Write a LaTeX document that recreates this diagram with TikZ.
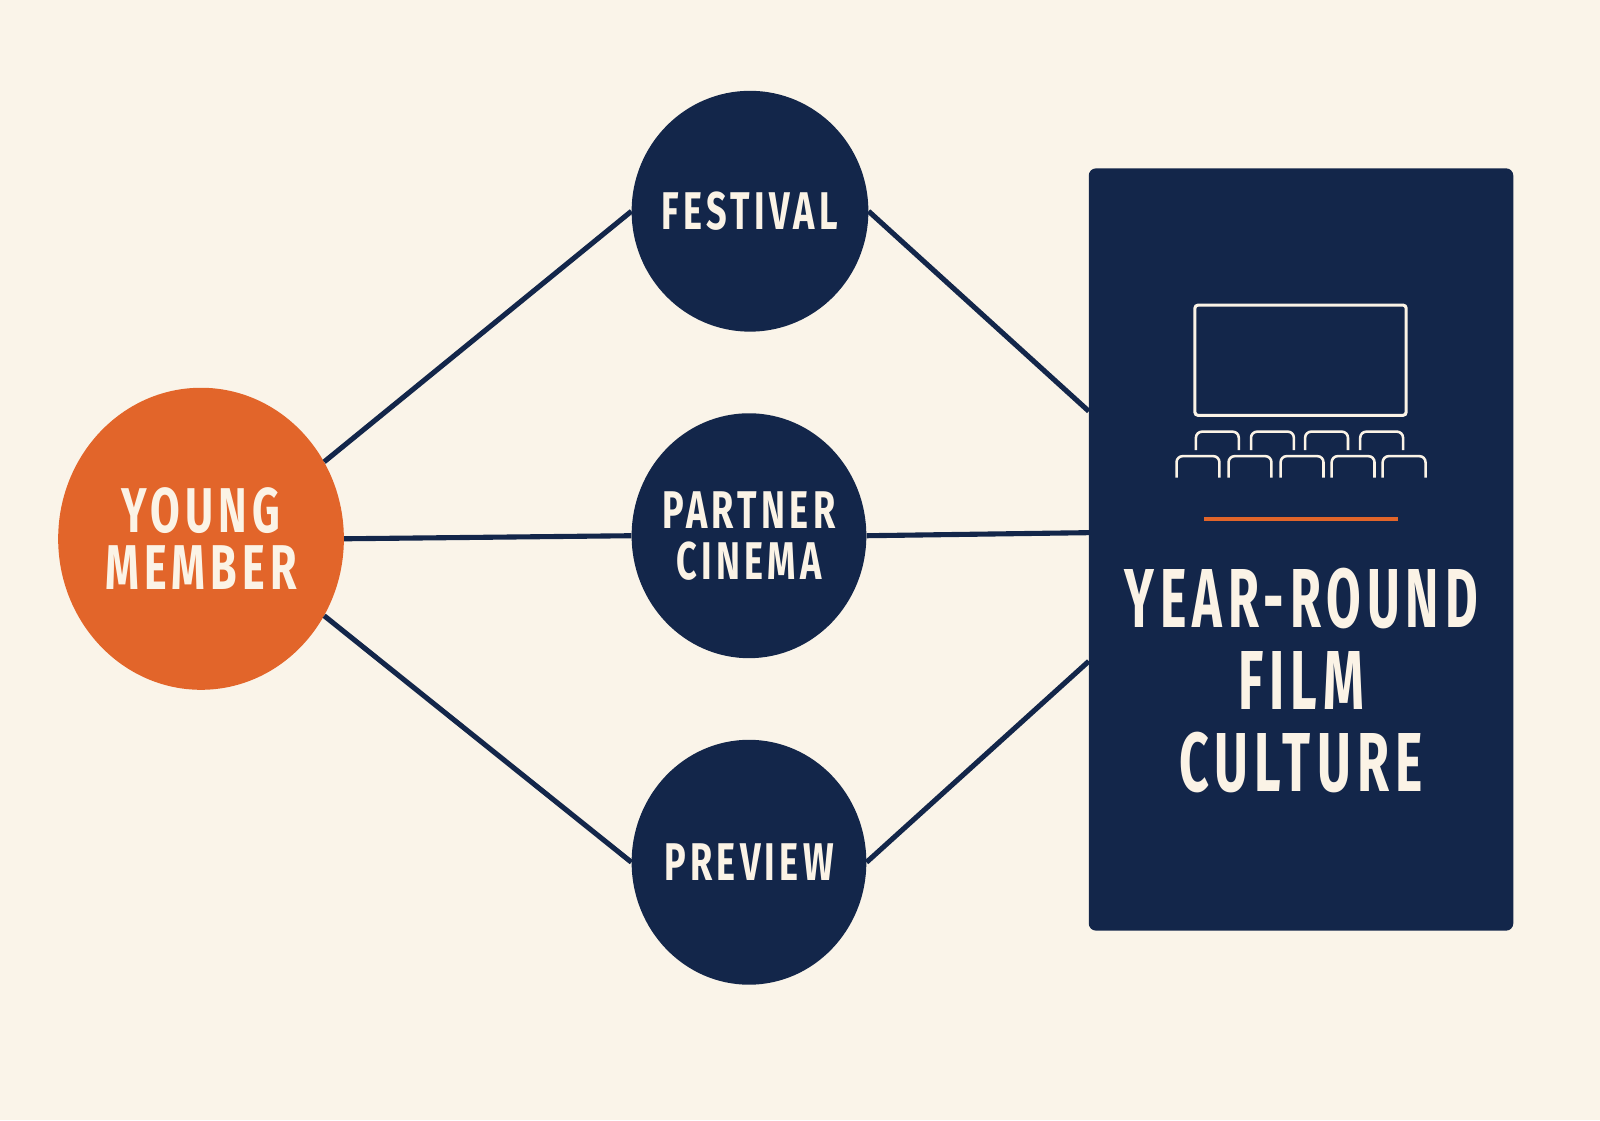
\documentclass[tikz,border=0pt]{standalone}
\usepackage{fontspec}
\setmainfont{Fira Sans}[UprightFont=* Bold, LetterSpace=12]
\usetikzlibrary{shapes.geometric}
\definecolor{bg}{HTML}{FAF4E9}
\definecolor{navy}{HTML}{13264A}
\definecolor{org}{HTML}{E2652A}
\definecolor{txt}{HTML}{FBF3E6}
\tikzset{
 circ/.style={ellipse,fill=navy,inner sep=0},
 lab/.style={text=txt,align=center,inner sep=0,font=\fontsize{52}{56}\selectfont},
 link/.style={navy,line width=5pt},
 seat/.style={txt,line width=2.5pt,rounded corners=6pt}
}
\newcommand{\nar}[1]{\scalebox{0.68}[1]{#1}}
\begin{document}
\begin{tikzpicture}[x=1pt,y=-1pt]
\fill[bg] (0,0) rectangle (1568,1098);
\useasboundingbox (0,0) rectangle (1568,1098);
\node[circ,fill=org,minimum width=280,minimum height=296] (ym) at (197,528) {};
\node[circ,minimum width=232,minimum height=236] (fest) at (735,207) {};
\node[circ,minimum width=230,minimum height=240] (part) at (734,525) {};
\node[circ,minimum width=230,minimum height=240] (prev) at (734,845) {};
\node[lab,font=\fontsize{62}{64}\selectfont] (ymt) at (ym) {\nar{YOUNG}\\[-8pt]\nar{MEMBER}};
\node[lab] (festt) at (fest) {\nar{FESTIVAL}};
\node[lab] (partt) at (part) {\nar{PARTNER}\\[-6pt]\nar{CINEMA}};
\node[lab] (prevt) at (prev) {\nar{PREVIEW}};
\node[fill=navy,rounded corners=7pt,minimum width=416,minimum height=747,inner sep=0] (box) at (1275,538.5) {};
\coordinate (b1) at (1067,403);
\coordinate (b2) at (1067,522);
\coordinate (b3) at (1067,648);
\draw[link] (ym.32) -- (fest.west);
\draw[link] (ym.east) -- (part.west);
\draw[link] (ym.-32) -- (prev.west);
\draw[link] (fest.east) -- (b1);
\draw[link] (part.east) -- (b2);
\draw[link] (prev.east) -- (b3);
\draw[txt,line width=3pt,rounded corners=3pt] (1171,299) rectangle (1378,407);
\foreach \x in {1193,1247,1300,1354}
  \draw[seat] (\x-21,441) -- (\x-21,423) -- (\x+21,423) -- (\x+21,441);
\foreach \x in {1174,1225,1276,1326,1376}
  \draw[seat] (\x-21,468) -- (\x-21,447) -- (\x+21,447) -- (\x+21,468);
\draw[org,line width=4pt] (1180,509) -- (1370,509);
\node[text=txt,align=center,font=\fontsize{82}{80}\selectfont] (t) at (1275,667) {\scalebox{0.6}[1]{YEAR-ROUND}\\\scalebox{0.62}[1]{FILM}\\\scalebox{0.62}[1]{CULTURE}};
\end{tikzpicture}
\end{document}
